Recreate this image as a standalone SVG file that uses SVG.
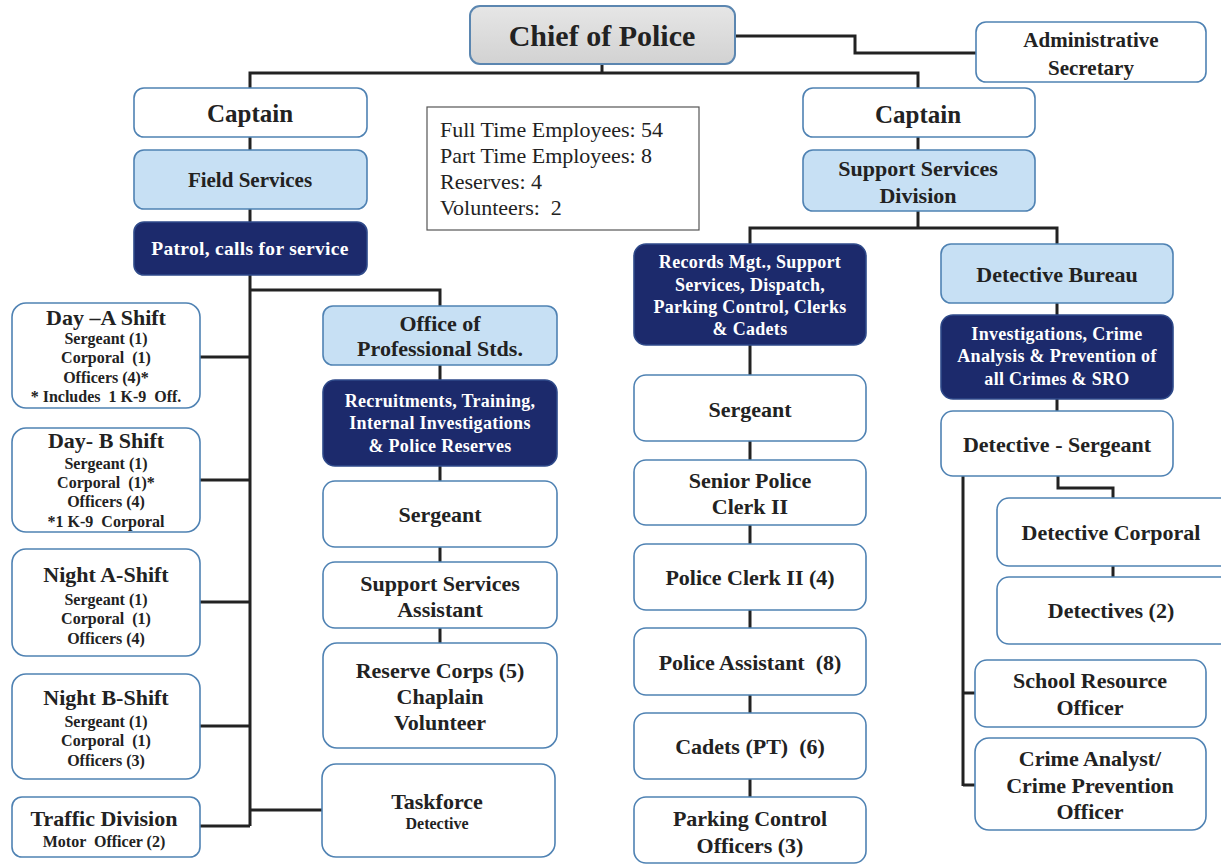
<svg xmlns="http://www.w3.org/2000/svg" width="1221" height="865" viewBox="0 0 1221 865" font-family="Liberation Serif, DejaVu Serif, serif">
  <style>
    .box { fill: #ffffff; stroke: #4f82b3; stroke-width: 1.6; }
    .lite { fill: #c7e0f4; stroke: #4f82b3; stroke-width: 1.6; }
    .dark { fill: #1c2a6c; stroke: #2f4a8a; stroke-width: 1.6; }
    .chief { fill: url(#chiefFill); stroke: #5b86b0; stroke-width: 2; }
    .stats { fill: #ffffff; stroke: #555555; stroke-width: 1.2; }
    text { font-weight: bold; fill: #222222; text-anchor: middle; white-space: pre; }
    .inv text { fill: #ffffff; font-size: 18px; letter-spacing: 0.3px; }
    .t30 { font-size: 30px; }
    .t25 { font-size: 25px; }
    .t22 { font-size: 22px; }
    .t21 { font-size: 21px; }
    .t19 { font-size: 19.5px; }
    .t16 { font-size: 16px; }
    .plain { font-weight: normal; font-size: 22px; text-anchor: start; }
    .wire { fill: none; stroke: #222222; stroke-width: 3; }
  </style>
  <defs>
    <linearGradient id="chiefFill" x1="0" y1="0" x2="0" y2="1">
      <stop offset="0" stop-color="#e6e6e6"/>
      <stop offset="1" stop-color="#d2d2d2"/>
    </linearGradient>
  </defs>

  <!-- connectors -->
  <g id="connectors" class="wire">
    <path d="M735 36 H855 V53 H976"/>
    <path d="M602 64 V73"/>
    <path d="M250 88 V73 H918 V88"/>
    <path d="M250 137 V150 M250 209 V222"/>
    <path d="M250 275 V826"/>
    <path d="M200 357 H250 M200 480 H250 M200 602 H250 M200 726 H250 M200 826 H250"/>
    <path d="M250 810 H322"/>
    <path d="M250 290 H440 V306"/>
    <path d="M440 365 V380 M440 466 V481 M440 547 V562 M440 628 V643"/>
    <path d="M918 137 V150"/>
    <path d="M918 211 V228"/>
    <path d="M750 244 V228 H1057 V244"/>
    <path d="M750 345 V375 M750 441 V460 M750 525 V544 M750 610 V628 M750 695 V713 M750 779 V797"/>
    <path d="M1057 303 V315 M1057 399 V411"/>
    <path d="M1058 476 V488 H1113 V498 M1113 566 V577"/>
    <path d="M963 476 V786 M963 693 H975 M963 785 H975"/>
  </g>

  <!-- top -->
  <g id="chief">
    <rect class="chief" x="470" y="6" width="265" height="58" rx="10"/>
    <text class="t30" x="602" y="46">Chief of Police</text>
  </g>
  <g id="admin-secretary">
    <rect class="box" x="976" y="22" width="230" height="60" rx="10"/>
    <text class="t21" x="1091" y="47">Administrative</text>
    <text class="t21" x="1091" y="75">Secretary</text>
  </g>

  <!-- staffing summary -->
  <g id="staffing">
    <rect class="stats" x="427" y="107" width="272" height="123"/>
    <text class="plain" x="440" y="137">Full Time Employees: 54</text>
    <text class="plain" x="440" y="163">Part Time Employees: 8</text>
    <text class="plain" x="440" y="189">Reserves: 4</text>
    <text class="plain" x="440" y="215">Volunteers:  2</text>
  </g>

  <!-- field services branch -->
  <g id="captain-field">
    <rect class="box" x="134" y="88" width="233" height="49" rx="10"/>
    <text class="t25" x="250" y="122">Captain</text>
  </g>
  <g id="field-services">
    <rect class="lite" x="134" y="150" width="233" height="59" rx="10"/>
    <text class="t21" x="250" y="187">Field Services</text>
  </g>
  <g id="patrol" class="inv">
    <rect class="dark" x="134" y="222" width="233" height="53" rx="10"/>
    <text x="250" y="255" style="font-size:19.5px">Patrol, calls for service</text>
  </g>

  <g id="day-a">
    <rect class="box" x="12" y="303" width="188" height="105" rx="14"/>
    <text class="t22" x="106" y="325">Day –A Shift</text>
    <text class="t16" x="106" y="344">Sergeant (1)</text>
    <text class="t16" x="106" y="363">Corporal  (1)</text>
    <text class="t16" x="106" y="383">Officers (4)*</text>
    <text class="t16" x="106" y="402">* Includes  1 K-9  Off.</text>
  </g>
  <g id="day-b">
    <rect class="box" x="12" y="428" width="188" height="104" rx="14"/>
    <text class="t22" x="106" y="448">Day- B Shift</text>
    <text class="t16" x="106" y="469">Sergeant (1)</text>
    <text class="t16" x="106" y="488">Corporal  (1)*</text>
    <text class="t16" x="106" y="507">Officers (4)</text>
    <text class="t16" x="106" y="527">*1 K-9  Corporal</text>
  </g>
  <g id="night-a">
    <rect class="box" x="12" y="549" width="188" height="107" rx="14"/>
    <text class="t22" x="106" y="582">Night A-Shift</text>
    <text class="t16" x="106" y="605">Sergeant (1)</text>
    <text class="t16" x="106" y="624">Corporal  (1)</text>
    <text class="t16" x="106" y="644">Officers (4)</text>
  </g>
  <g id="night-b">
    <rect class="box" x="12" y="674" width="188" height="105" rx="14"/>
    <text class="t22" x="106" y="705">Night B-Shift</text>
    <text class="t16" x="106" y="727">Sergeant (1)</text>
    <text class="t16" x="106" y="746">Corporal  (1)</text>
    <text class="t16" x="106" y="766">Officers (3)</text>
  </g>
  <g id="traffic">
    <rect class="box" x="12" y="797" width="188" height="60" rx="10"/>
    <text class="t22" x="104" y="826">Traffic Division</text>
    <text class="t16" x="104" y="847">Motor  Officer (2)</text>
  </g>

  <!-- professional standards -->
  <g id="professional-stds">
    <rect class="lite" x="323" y="306" width="234" height="59" rx="10"/>
    <text class="t22" x="440" y="331">Office of</text>
    <text class="t22" x="440" y="356">Professional Stds.</text>
  </g>
  <g id="recruitment" class="inv">
    <rect class="dark" x="323" y="380" width="234" height="86" rx="12"/>
    <text x="440" y="407">Recruitments, Training,</text>
    <text x="440" y="429">Internal Investigations</text>
    <text x="440" y="452">&amp; Police Reserves</text>
  </g>
  <g id="pro-sergeant">
    <rect class="box" x="323" y="481" width="234" height="66" rx="12"/>
    <text class="t22" x="440" y="522">Sergeant</text>
  </g>
  <g id="ss-assistant">
    <rect class="box" x="323" y="562" width="234" height="66" rx="12"/>
    <text class="t22" x="440" y="591">Support Services</text>
    <text class="t22" x="440" y="617">Assistant</text>
  </g>
  <g id="reserve-corps">
    <rect class="box" x="323" y="643" width="234" height="105" rx="14"/>
    <text class="t22" x="440" y="678">Reserve Corps (5)</text>
    <text class="t22" x="440" y="704">Chaplain</text>
    <text class="t22" x="440" y="730">Volunteer</text>
  </g>
  <g id="taskforce">
    <rect class="box" x="322" y="764" width="233" height="93" rx="14"/>
    <text class="t22" x="437" y="809">Taskforce</text>
    <text class="t16" x="437" y="829">Detective</text>
  </g>

  <!-- support services branch -->
  <g id="captain-support">
    <rect class="box" x="803" y="88" width="232" height="49" rx="10"/>
    <text class="t25" x="918" y="123">Captain</text>
  </g>
  <g id="support-division">
    <rect class="lite" x="803" y="150" width="232" height="61" rx="10"/>
    <text class="t22" x="918" y="176">Support Services</text>
    <text class="t22" x="918" y="203">Division</text>
  </g>
  <g id="records" class="inv">
    <rect class="dark" x="634" y="244" width="232" height="101" rx="12"/>
    <text x="750" y="268">Records Mgt., Support</text>
    <text x="750" y="291">Services, Dispatch,</text>
    <text x="750" y="313">Parking Control, Clerks</text>
    <text x="750" y="335">&amp; Cadets</text>
  </g>
  <g id="rec-sergeant">
    <rect class="box" x="634" y="375" width="232" height="66" rx="12"/>
    <text class="t22" x="750" y="417">Sergeant</text>
  </g>
  <g id="senior-clerk">
    <rect class="box" x="634" y="460" width="232" height="65" rx="12"/>
    <text class="t22" x="750" y="488">Senior Police</text>
    <text class="t22" x="750" y="514">Clerk II</text>
  </g>
  <g id="police-clerk">
    <rect class="box" x="634" y="544" width="232" height="66" rx="12"/>
    <text class="t22" x="750" y="585">Police Clerk II (4)</text>
  </g>
  <g id="police-assistant">
    <rect class="box" x="634" y="628" width="232" height="67" rx="12"/>
    <text class="t22" x="750" y="670">Police Assistant  (8)</text>
  </g>
  <g id="cadets">
    <rect class="box" x="634" y="713" width="232" height="66" rx="12"/>
    <text class="t22" x="750" y="754">Cadets (PT)  (6)</text>
  </g>
  <g id="parking">
    <rect class="box" x="634" y="797" width="232" height="66" rx="12"/>
    <text class="t22" x="750" y="826">Parking Control</text>
    <text class="t22" x="750" y="853">Officers (3)</text>
  </g>

  <!-- detective bureau -->
  <g id="detective-bureau">
    <rect class="lite" x="941" y="244" width="232" height="59" rx="10"/>
    <text class="t22" x="1057" y="282">Detective Bureau</text>
  </g>
  <g id="investigations" class="inv">
    <rect class="dark" x="941" y="315" width="232" height="84" rx="12"/>
    <text x="1057" y="340">Investigations, Crime</text>
    <text x="1057" y="362">Analysis &amp; Prevention of</text>
    <text x="1057" y="385">all Crimes &amp; SRO</text>
  </g>
  <g id="det-sergeant">
    <rect class="box" x="941" y="411" width="232" height="65" rx="12"/>
    <text class="t22" x="1057" y="452">Detective - Sergeant</text>
  </g>
  <g id="det-corporal">
    <rect class="box" x="997" y="498" width="236" height="68" rx="12"/>
    <text class="t22" x="1111" y="540">Detective Corporal</text>
  </g>
  <g id="detectives">
    <rect class="box" x="997" y="577" width="236" height="67" rx="12"/>
    <text class="t22" x="1111" y="618">Detectives (2)</text>
  </g>
  <g id="sro">
    <rect class="box" x="975" y="660" width="231" height="67" rx="12"/>
    <text class="t22" x="1090" y="688">School Resource</text>
    <text class="t22" x="1090" y="715">Officer</text>
  </g>
  <g id="crime-analyst">
    <rect class="box" x="975" y="738" width="231" height="92" rx="14"/>
    <text class="t22" x="1090" y="766">Crime Analyst/</text>
    <text class="t22" x="1090" y="793">Crime Prevention</text>
    <text class="t22" x="1090" y="819">Officer</text>
  </g>
</svg>
